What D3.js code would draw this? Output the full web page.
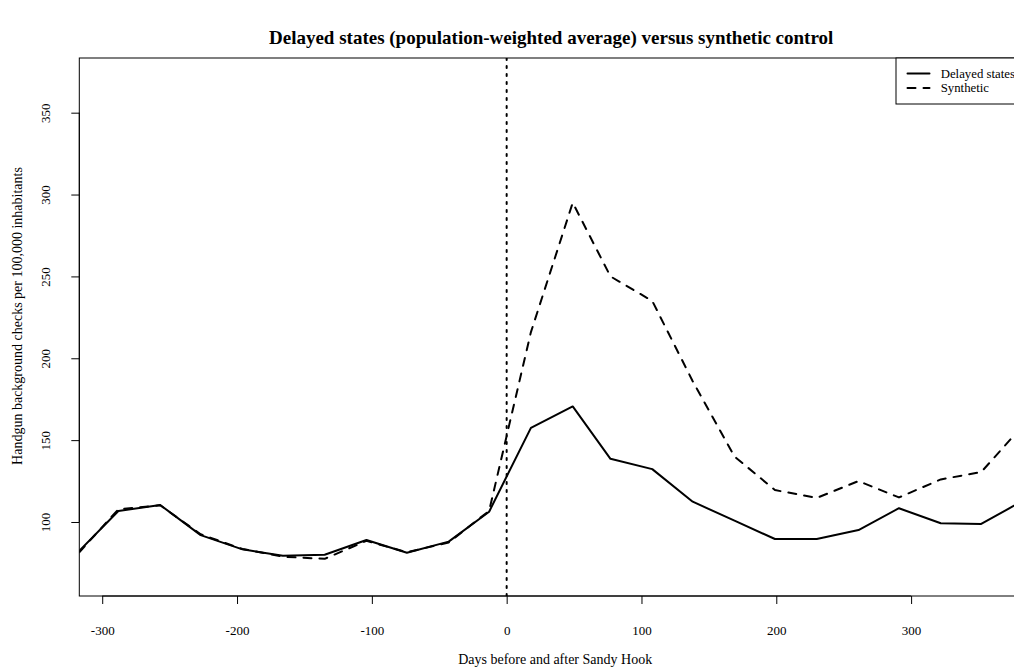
<!DOCTYPE html>
<html>
<head>
<meta charset="utf-8">
<script src="https://cdn.jsdelivr.net/npm/d3@7"></script>
<style>
  html, body { margin: 0; padding: 0; background: #fff; overflow: hidden; }
  svg { display: block; font-family: "Liberation Serif", "Times New Roman", serif; }
</style>
</head>
<body>
<svg id="chart" width="1014" height="667"></svg>
<script>
// ---- data (days relative to Sandy Hook, monthly observations) ----
const days = [-317, -288, -257, -227, -196, -166, -135, -104, -74, -43, -13, 18, 49, 77, 108, 138, 169, 199, 230, 261, 291, 322, 352, 383];
const delayedStates = [82.4, 106.7, 110.4, 92, 83.3, 79.4, 80, 89, 81.2, 88, 106.3, 157.5, 170.6, 138.6, 132.3, 112.4, 100.8, 89.6, 89.6, 95.1, 108.4, 99.2, 98.8, 113];
const syntheticControl = [81.5, 107.8, 110.2, 92.5, 83.5, 78.8, 77.5, 88.5, 81.5, 87.5, 106.8, 216, 295, 250, 235, 186, 140, 119.5, 114.7, 125, 115, 126, 130.5, 159];
const xTicks = [-300, -200, -100, 0, 100, 200, 300];
const xTickLabels = ["-300", "-200", "-100", "0", "100", "200", "300"];
const yTicks = [100, 150, 200, 250, 300, 350];
const yTickLabels = ["100", "150", "200", "250", "300", "350"];
const eventDay = 0;
const titleText = "Delayed states (population-weighted average) versus synthetic control";
const xTitle = "Days before and after Sandy Hook";
const yTitle = "Handgun background checks per 100,000 inhabitants";
const legendLabels = ["Delayed states", "Synthetic"];

// ---- layout ----
const plot = { left: 79.3, right: 1023, top: 58, bottom: 596 };
const svg = d3.select("#chart");
svg.append("rect").attr("width", 1014).attr("height", 667).attr("fill", "#fff");

const x = d3.scaleLinear().domain([d3.min(days), d3.max(days)]).range([plot.left, plot.right]);
const y = d3.scaleLinear().domain([54.8, 383.4]).range([plot.bottom, plot.top]);

svg.append("defs").append("clipPath").attr("id", "clip")
  .append("rect")
  .attr("x", plot.left).attr("y", plot.top)
  .attr("width", plot.right - plot.left).attr("height", plot.bottom - plot.top);

const tickLen = 8;

// x axis
const xAxis = svg.append("g").attr("transform", `translate(0,${plot.bottom})`)
  .call(d3.axisBottom(x).tickValues(xTicks).tickSize(tickLen).tickPadding(0)
    .tickFormat((d, i) => xTickLabels[i]));
xAxis.select(".domain").attr("d", `M${x(xTicks[0])},0H${x(xTicks[xTicks.length-1])}`);
xAxis.selectAll("text").attr("y", 39).attr("dy", 0).attr("font-size", 13)
  .attr("font-family", "Liberation Serif").attr("fill", "#000");

// y axis
const yAxis = svg.append("g").attr("transform", `translate(${plot.left},0)`)
  .call(d3.axisLeft(y).tickValues(yTicks).tickSize(tickLen).tickPadding(0)
    .tickFormat((d, i) => yTickLabels[i]));
yAxis.select(".domain").attr("d", `M0,${y(yTicks[0])}V${y(yTicks[yTicks.length-1])}`);
yAxis.selectAll(".tick text")
  .attr("x", 0).attr("dy", 0)
  .attr("text-anchor", "middle")
  .attr("transform", "translate(-29,0) rotate(-90)")
  .attr("font-size", 13).attr("font-family", "Liberation Serif").attr("fill", "#000");

// plot box
svg.append("rect")
  .attr("x", plot.left).attr("y", plot.top)
  .attr("width", plot.right - plot.left).attr("height", plot.bottom - plot.top)
  .attr("fill", "none").attr("stroke", "#000").attr("stroke-width", 1);

const g = svg.append("g").attr("clip-path", "url(#clip)");

const line = d3.line().x(d => x(d[0])).y(d => y(d[1]));

g.append("path")
  .datum(days.map((d, i) => [d, delayedStates[i]]))
  .attr("d", line)
  .attr("fill", "none").attr("stroke", "#000").attr("stroke-width", 2)
  .attr("stroke-linejoin", "round").attr("stroke-linecap", "round");

g.append("path")
  .datum(days.map((d, i) => [d, syntheticControl[i]]))
  .attr("d", line)
  .attr("fill", "none").attr("stroke", "#000").attr("stroke-width", 2)
  .attr("stroke-dasharray", "8,8")
  .attr("stroke-linejoin", "round").attr("stroke-linecap", "round");

// vertical dotted line at event
g.append("line")
  .attr("x1", x(eventDay)).attr("x2", x(eventDay))
  .attr("y1", plot.top).attr("y2", plot.bottom)
  .attr("stroke", "#000").attr("stroke-width", 2)
  .attr("stroke-dasharray", "2,6").attr("stroke-linecap", "round");

// titles
svg.append("text")
  .attr("x", (plot.left + plot.right) / 2).attr("y", 44)
  .attr("text-anchor", "middle").attr("font-weight", "bold").attr("font-size", 19)
  .text(titleText);

svg.append("text")
  .attr("x", (plot.left + plot.right) / 2 + 4).attr("y", 664)
  .attr("text-anchor", "middle").attr("font-size", 14)
  .text(xTitle);

svg.append("text")
  .attr("transform", `translate(22,${(plot.top + plot.bottom) / 2 - 11}) rotate(-90)`)
  .attr("text-anchor", "middle").attr("font-size", 14)
  .text(yTitle);

// legend
const leg = { left: 896, top: plot.top, right: plot.right, bottom: 104 };
svg.append("rect")
  .attr("x", leg.left).attr("y", leg.top)
  .attr("width", leg.right - leg.left).attr("height", leg.bottom - leg.top)
  .attr("fill", "#fff").attr("stroke", "#000").attr("stroke-width", 1);
const rowY = [73.5, 88];
const dashes = [null, "8,8"];
legendLabels.forEach((lab, i) => {
  svg.append("line")
    .attr("x1", 907.5).attr("x2", 929.5).attr("y1", rowY[i]).attr("y2", rowY[i])
    .attr("stroke", "#000").attr("stroke-width", 2).attr("stroke-linecap", "round")
    .attr("stroke-dasharray", dashes[i]);
  svg.append("text")
    .attr("x", 940.7).attr("y", rowY[i]).attr("dy", "0.35em")
    .attr("font-size", 12.8)
    .text(lab);
});
</script>
</body>
</html>
